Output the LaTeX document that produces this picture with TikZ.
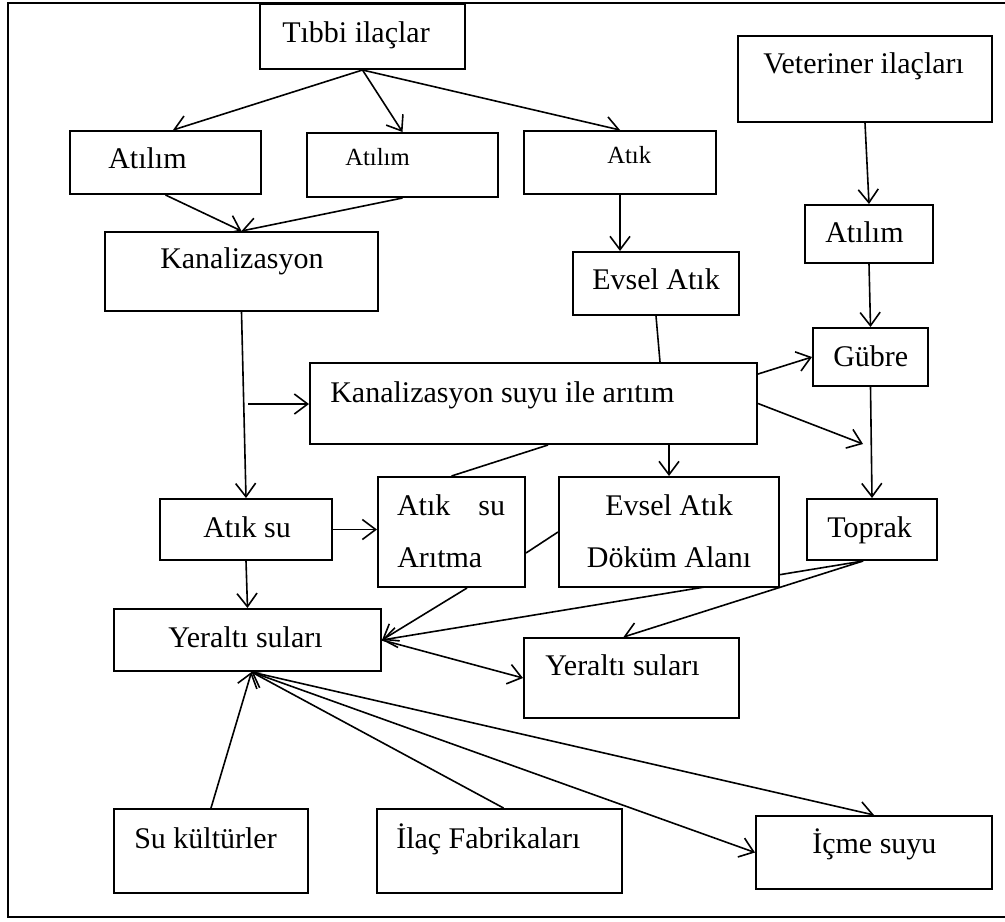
\documentclass[tikz,border=0pt]{standalone}
\usepackage{fontspec}
\setmainfont{Liberation Serif}
\usetikzlibrary{arrows.meta,calc,fit}
\pgfdeclarelayer{bg}
\pgfsetlayers{bg,main}
\newcommand\fsN{\fontsize{22.5}{27}\selectfont}
\newcommand\fsS{\fontsize{18.5}{22}\selectfont}
\begin{document}
\begin{tikzpicture}[x=0.75pt,y=-0.75pt,
  box/.style={draw, line width=1.5pt, fill=white, inner sep=0pt},
  txt/.style={inner sep=0pt, anchor=base west, font=\fsN},
  stxt/.style={inner sep=0pt, anchor=base west, font=\fsS},
  arr/.style={line width=1.2pt, -{Straight Barb[length=10pt,width=15pt]}},
  ln/.style={line width=1.2pt}]
\useasboundingbox (0,0) rectangle (1005,921);
\draw[line width=1.6pt] (1006,3) -- (8,3) -- (8,917) -- (1006,917);

% boxes
\node[box, fit={(260,4)(465,69)}] (tibbi) {};
\node[box, fit={(70,131)(261,194)}] (atilimA) {};
\node[box, fit={(307,133)(498,197)}] (atilimB) {};
\node[box, fit={(524,131)(716,194)}] (atik) {};
\node[box, fit={(738,36)(992,122)}] (vet) {};
\node[box, fit={(105,232)(378,311)}] (kanal) {};
\node[box, fit={(573,252)(739,315)}] (evsel) {};
\node[box, fit={(805,205)(933,263)}] (vatilim) {};
\node[box, fit={(813,328)(928,386)}] (gubre) {};
\node[box, fit={(310,363)(757,444)}] (kst) {};
\node[box, fit={(160,499)(332,560)}] (atiksu) {};
\node[box, fit={(378,477)(525,587)}] (asa) {};
\node[box, fit={(559,477)(779,587)}] (eda) {};
\node[box, fit={(807,499)(937,560)}] (toprak) {};
\node[box, fit={(114,609)(381,671)}] (yerA) {};
\node[box, fit={(524,638)(739,718)}] (yerB) {};
\node[box, fit={(114,809)(308,893)}] (suk) {};
\node[box, fit={(377,809)(622,893)}] (ilac) {};
\node[box, fit={(756,816)(992,889)}] (icme) {};

% texts
\node[txt] (ttibbi) at (282,42) {Tıbbi ilaçlar};
\node[txt] (tatilimA) at (108,168) {Atılım};
\node[stxt] (tatilimB) at (345,165) {Atılım};
\node[stxt] (tatik) at (607,163) {Atık};
\node[txt] (tvet) at (763,73) {Veteriner ilaçları};
\node[txt] (tkanal) at (160,268) {Kanalizasyon};
\node[txt] (tevsel) at (592,289) {Evsel Atık};
\node[txt] (tvatilim) at (825,242) {Atılım};
\node[txt] (tgubre) at (833,366) {Gübre};
\node[txt] (tkst) at (330,402) {Kanalizasyon suyu ile arıtım};
\node[txt] (tatiksu) at (203,537) {Atık su};
\node[txt, anchor=base] (tasaA) at (451,515) {\makebox[81pt]{Atık\hfill su}};
\node[txt] (tasaB) at (397,567) {Arıtma};
\node[txt, anchor=base] (tedaA) at (669,515) {Evsel Atık};
\node[txt, anchor=base] (tedaB) at (669,567) {Döküm Alanı};
\node[txt] (ttoprak) at (827,537) {Toprak};
\node[txt] (tyerA) at (168,647) {Yeraltı suları};
\node[txt] (tyerB) at (545,675) {Yeraltı suları};
\node[txt] (tsuk) at (134,848) {Su kültürler};
\node[txt] (tilac) at (396,848) {İlaç Fabrikaları};
\node[txt] (ticme) at (812,853) {İçme suyu};

\coordinate (br) at (248,404);
\coordinate (kstend) at (863,444);

\begin{pgfonlayer}{bg}
\draw[arr] (tibbi.south) -- ($(atilimA.north)+(7.5,0)$);
\draw[arr] (tibbi.south) -- (atilimB.north);
\draw[arr] (tibbi.south) -- (atik.north);
\draw[arr] (atilimA.south) -- (kanal.north);
\draw[arr] (atilimB.south) -- (kanal.north);
\draw[arr] (atik.south) -- (atik.south |- evsel.north);
\draw[arr] (vet.south) -- (vatilim.north);
\draw[arr] (vatilim.south) -- (gubre.north);
\draw[arr] (gubre.south) -- (toprak.north);
\draw[ln] (evsel.south) -- ($(evsel.south |- kst.north)+(4,0)$);
\draw[arr] ($(kst.north east)+(0,12)$) -- (gubre.west);
\draw[arr] (kst.east) -- (kstend);
\draw[arr] (kanal.south) -- (atiksu.north);
\draw[arr] (br) -- (br -| kst.west);
\draw[arr] (eda.north |- kst.south) -- (eda.north);
\draw[ln] (asa.north) -- ($(kst.south)+(14.5,0)$);
\draw[arr] (atiksu.east) -- (atiksu.east -| asa.west);
\draw[ln] ($(asa.east)+(0,21)$) -- (eda.west);
\draw[arr] (atiksu.south) -- (yerA.north);
\draw[arr] ($(asa.south)+(15.5,0)$) -- (yerA.east);
\draw[arr] ($(toprak.south)+(-9,0)$) -- (yerA.east);
\draw[arr] ($(toprak.south)+(-9,0)$) -- ($(yerB.north)+(-8,0)$);
\draw[arr] (yerA.east) -- (yerB.west);
\draw[arr] (suk.north) -- ($(yerA.south)+(4,0)$);
\draw[arr] ($(ilac.north)+(4,0)$) -- ($(yerA.south)+(4,0)$);
\draw[arr] ($(yerA.south)+(4,0)$) -- (icme.north);
\draw[arr] ($(yerA.south)+(4,0)$) -- (icme.west);
\end{pgfonlayer}
\end{tikzpicture}
\end{document}
